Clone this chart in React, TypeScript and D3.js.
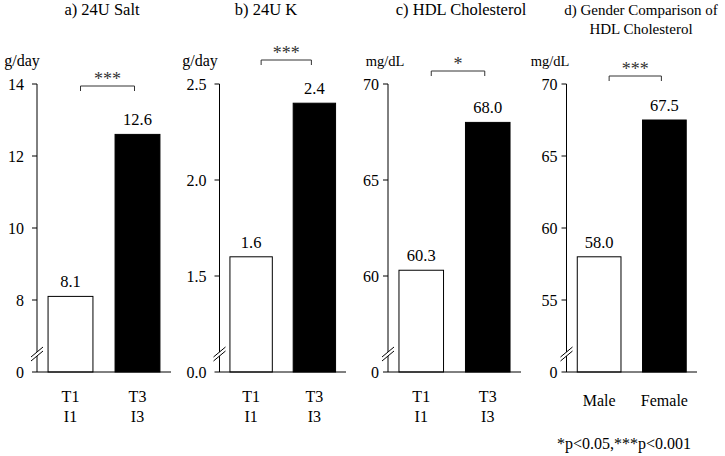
import React from "react";
import * as d3 from "d3";

// ---------- data ----------
const tiCategories = ["T1", "T3"];
const tiSubCategories = ["I1", "I3"];
const genderCategories = ["Male", "Female"];

const saltValues = [8.1, 12.6];
const potassiumValues = [1.6, 2.4];
const hdlValues = [60.3, 68.0];
const genderHdlValues = [58.0, 67.5];

const saltTicks = [8, 10, 12, 14];
const potassiumTicks = [1.5, 2.0, 2.5];
const hdlTicks = [60, 65, 70];
const genderHdlTicks = [55, 60, 65, 70];

const saltDomain = [6, 14];
const potassiumDomain = [1.0, 2.5];
const hdlDomain = [55, 70];
const genderHdlDomain = [50, 70];

const zeroLabels = ["0", "0.0", "0", "0"];
const tickDecimals = [0, 1, 0, 0];
const panelTitles = [
  ["a) 24U Salt"],
  ["b) 24U K"],
  ["c) HDL Cholesterol"],
  ["d) Gender Comparison of", "HDL Cholesterol"],
];
const unitLabels = ["g/day", "g/day", "mg/dL", "mg/dL"];
const significance = ["***", "***", "*", "***"];
const footnote = "*p<0.05,***p<0.001";

// ---------- layout ----------
const FONT = "'Times New Roman', 'Liberation Serif', serif";
const Y_TOP = 84;
const Y_BASE = 372;
const BREAK_Y = 354;

const panels = [
  { values: saltValues, ticks: saltTicks, domain: saltDomain, cats: tiCategories, sub: tiSubCategories,
    x0: 37, x1: 171, titleX: 102, titleFs: 16.5, unitX: 22, unitFs: 16, bracketY: 86, labelGap: 13 },
  { values: potassiumValues, ticks: potassiumTicks, domain: potassiumDomain, cats: tiCategories, sub: tiSubCategories,
    x0: 219.5, x1: 346, titleX: 266, titleFs: 16.5, unitX: 200, unitFs: 16, bracketY: 60, labelGap: 13 },
  { values: hdlValues, ticks: hdlTicks, domain: hdlDomain, cats: tiCategories, sub: tiSubCategories,
    x0: 388, x1: 521, titleX: 461, titleFs: 16.5, unitX: 385, unitFs: 14.5, bracketY: 71, labelGap: 9 },
  { values: genderHdlValues, ticks: genderHdlTicks, domain: genderHdlDomain, cats: genderCategories, sub: null,
    x0: 566.5, x1: 697, titleX: 641, titleFs: 15, unitX: 550, unitFs: 14.5, bracketY: 76, labelGap: 9 },
];

function Panel({ p, i }: { p: any; i: number }) {
  const y = d3.scaleLinear().domain(p.domain).range([Y_BASE, Y_TOP]);
  const x = d3.scaleBand<string>().domain(p.cats).range([p.x0, p.x1]).paddingInner(0.33).paddingOuter(0.165);
  const bw = x.bandwidth();
  const ax = p.x0;
  const c1 = (x(p.cats[0]) as number) + bw / 2;
  const c2 = (x(p.cats[1]) as number) + bw / 2;
  const bl = c1 + 10;
  const br = c2 - 3;
  const fmt = (v: number) => v.toFixed(tickDecimals[i]);
  const txt = (fs: number) => ({ fontSize: fs, fontFamily: FONT, fill: "#000" });
  return (
    <g>
      {panelTitles[i].map((t, k) => (
        <text key={k} x={p.titleX} y={15 + k * 18.5} textAnchor="middle" style={txt(p.titleFs)}>
          {t}
        </text>
      ))}
      <text x={p.unitX} y={66} textAnchor="middle" style={txt(p.unitFs)}>
        {unitLabels[i]}
      </text>
      {/* bars */}
      {p.values.map((v: number, k: number) => {
        const bx = x(p.cats[k]) as number;
        return (
          <g key={k}>
            <rect x={bx} y={y(v)} width={bw} height={Y_BASE - y(v)}
              fill={k === 0 ? "#fff" : "#000"} stroke="#000" strokeWidth={1} />
            <text x={bx + bw / 2} y={y(v) - 9} textAnchor="middle" style={txt(16.5)}>
              {v.toFixed(1)}
            </text>
          </g>
        );
      })}
      {/* y axis */}
      <line x1={ax} x2={ax} y1={Y_TOP} y2={Y_BASE} stroke="#000" strokeWidth={1} />
      {p.ticks.map((t: number) => (
        <g key={t}>
          <line x1={ax - 5} x2={ax} y1={y(t)} y2={y(t)} stroke="#000" strokeWidth={1} />
          <text x={ax - p.labelGap} y={y(t)} dy="0.35em" textAnchor="end" style={txt(16)}>
            {fmt(t)}
          </text>
        </g>
      ))}
      <text x={ax - p.labelGap} y={Y_BASE} dy="0.35em" textAnchor="end" style={txt(16)}>
        {zeroLabels[i]}
      </text>
      {/* baseline */}
      <line x1={ax - 5} x2={p.x1} y1={Y_BASE} y2={Y_BASE} stroke="#000" strokeWidth={1} />
      {/* axis break */}
      <polygon points={`${ax - 6},${BREAK_Y + 7} ${ax + 6},${BREAK_Y - 3} ${ax + 6},${BREAK_Y - 7} ${ax - 6},${BREAK_Y + 3}`} fill="#fff" />
      <line x1={ax - 6} y1={BREAK_Y + 7} x2={ax + 6} y2={BREAK_Y - 3} stroke="#000" strokeWidth={1} />
      <line x1={ax - 6} y1={BREAK_Y + 3} x2={ax + 6} y2={BREAK_Y - 7} stroke="#000" strokeWidth={1} />
      {/* category labels */}
      {p.cats.map((c: string, k: number) => {
        const cx = (x(c) as number) + bw / 2;
        return p.sub ? (
          <g key={c}>
            <text x={cx} y={402} textAnchor="middle" style={txt(16)}>{c}</text>
            <text x={cx} y={422} textAnchor="middle" style={txt(16)}>{p.sub[k]}</text>
          </g>
        ) : (
          <text key={c} x={cx} y={406} textAnchor="middle" style={txt(16)}>{c}</text>
        );
      })}
      {/* significance bracket */}
      <path d={`M${bl},${p.bracketY + 5}V${p.bracketY}H${br}V${p.bracketY + 5}`} fill="none" stroke="#333" strokeWidth={1} />
      <text x={(bl + br) / 2} y={p.bracketY - 1} textAnchor="middle" style={{ fontSize: 18, fontFamily: FONT, fill: "#333" }}>
        {significance[i]}
      </text>
    </g>
  );
}

export default function App() {
  return (
    <svg width={725} height={456} style={{ position: "absolute", left: 0, top: 0, background: "#fff" }}>
      <rect width={725} height={456} fill="#fff" />
      {panels.map((p, i) => (
        <Panel key={i} p={p} i={i} />
      ))}
      <text x={624} y={449} textAnchor="middle" style={{ fontSize: 16, fontFamily: FONT, fill: "#000" }}>
        {footnote}
      </text>
    </svg>
  );
}
